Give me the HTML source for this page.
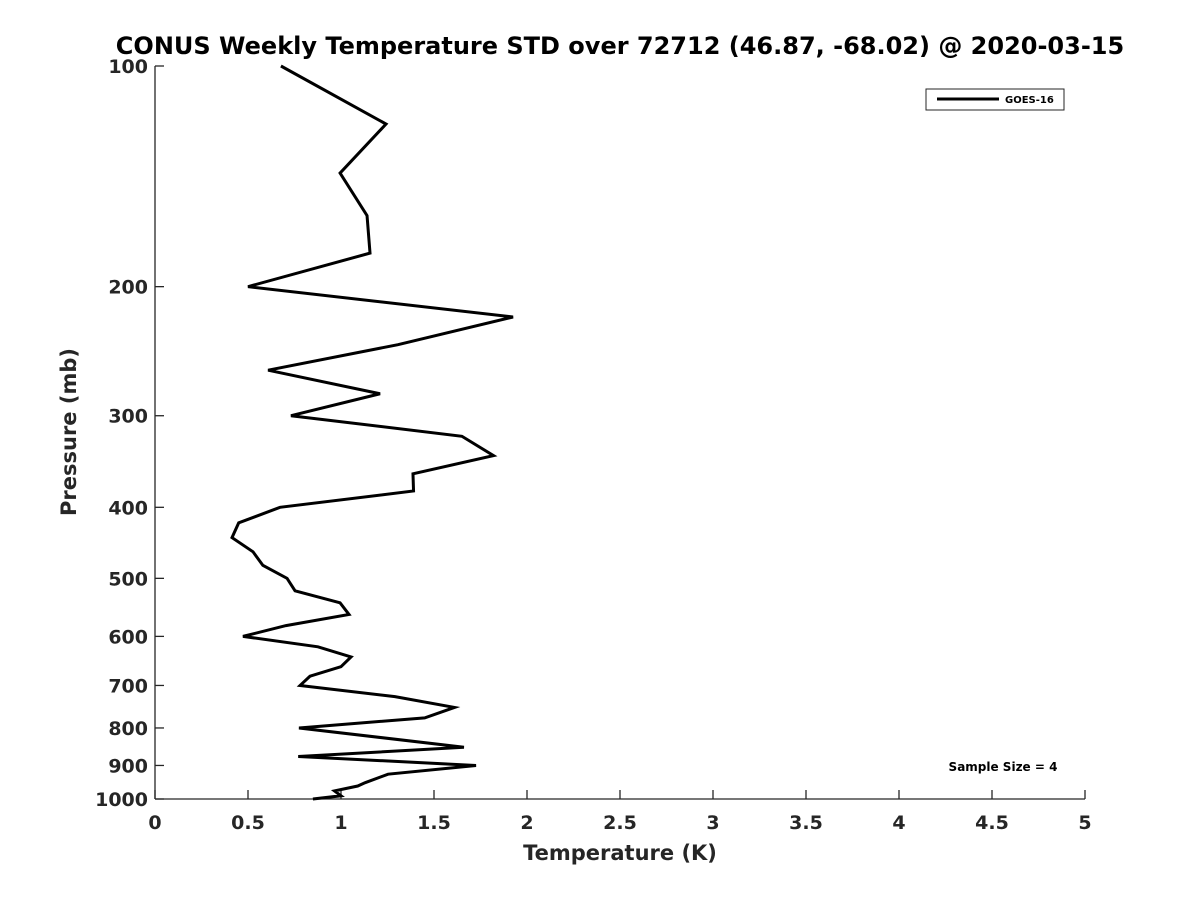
<!DOCTYPE html>
<html><head><meta charset="utf-8"><style>
body{margin:0;background:#fff;font-family:"Liberation Sans",sans-serif}
svg text{font-family:"DejaVu Sans","Liberation Sans",sans-serif;font-weight:bold}
</style></head><body>
<svg id="chart" width="1200" height="900"></svg>
<script>
const temps=[0.677,1.242,0.995,1.14,1.156,0.5,1.925,1.306,0.608,1.21,0.731,1.65,1.82,1.387,1.39,0.672,0.45,0.414,0.527,0.58,0.71,0.753,0.995,1.043,0.704,0.473,0.876,1.054,1.0,0.833,0.78,1.29,1.61,1.45,0.774,1.661,0.77,1.726,1.253,1.13,1.09,0.965,1.0,0.849];
const pressures=[100,120,140,160,180,200,220,240,260,280,300,320,340,360,380,400,420,440,460,480,500,520,540,560,580,600,620,640,660,680,700,725,750,775,800,850,875,900,925,950,960,975,990,1000];
const xTicks=[0,0.5,1,1.5,2,2.5,3,3.5,4,4.5,5];
const xTickLabels=["0","0.5","1","1.5","2","2.5","3","3.5","4","4.5","5"];
const yTicks=[100,200,300,400,500,600,700,800,900,1000];
const yTickLabels=["100","200","300","400","500","600","700","800","900","1000"];
const X0=155,X1=1085,Y0=66,Y1=799;
const xs=v=>X0+(v-0)/(5-0)*(X1-X0);
const ys=p=>Y0+Math.log10(p/100)*(Y1-Y0);
const svg=document.getElementById('chart');
const NS='http://www.w3.org/2000/svg';
function mk(t,a,txt){const e=document.createElementNS(NS,t);for(const k in a)e.setAttribute(k,a[k]);if(txt!==undefined)e.textContent=txt;svg.appendChild(e);return e;}
let e;
e=mk('text',{x:620,y:54,'text-anchor':'middle','font-size':24},'CONUS Weekly Temperature STD over 72712 (46.87, -68.02) @ 2020-03-15');


e=mk('line',{x1:X0,y1:Y1,x2:X1,y2:Y1,stroke:'#262626','stroke-width':1.3});


e=mk('line',{x1:X0,y1:Y0,x2:X0,y2:Y1,stroke:'#262626','stroke-width':1.3});


xTicks.forEach((v,i)=>{
 e=mk('line',{x1:xs(v),y1:Y1,x2:xs(v),y2:Y1-9,stroke:'#262626','stroke-width':1.3});
 
 
 e=mk('text',{x:xs(v),y:Y1+30,'text-anchor':'middle','font-size':19,fill:'#262626'},xTickLabels[i]);
 
 
});
yTicks.forEach((p,i)=>{
 e=mk('line',{x1:X0,y1:ys(p),x2:X0+9,y2:ys(p),stroke:'#262626','stroke-width':1.3});
 
 
 e=mk('text',{x:X0-7,y:ys(p)+7,'text-anchor':'end','font-size':19,fill:'#262626'},yTickLabels[i]);
 
 
});
e=mk('text',{x:620,y:860,'text-anchor':'middle','font-size':21,fill:'#262626'},'Temperature (K)');


e=mk('text',{x:0,y:0,'text-anchor':'middle','font-size':21,fill:'#262626',transform:'translate(76,432) rotate(-90)'},'Pressure (mb)');


e=mk('polyline',{points:temps.map((t,i)=>xs(t)+','+ys(pressures[i])).join(' '),fill:'none',stroke:'#000','stroke-width':3,'stroke-linejoin':'miter'});


e=mk('rect',{x:926,y:89,width:138,height:21,fill:'#fff',stroke:'#262626','stroke-width':1});


e=mk('line',{x1:937,y1:99,x2:999,y2:99,stroke:'#000','stroke-width':3});


e=mk('text',{x:1005,y:103,'font-size':10},'GOES-16');


e=mk('text',{x:1003,y:771,'text-anchor':'middle','font-size':12},'Sample Size = 4');


</script>
</body></html>
